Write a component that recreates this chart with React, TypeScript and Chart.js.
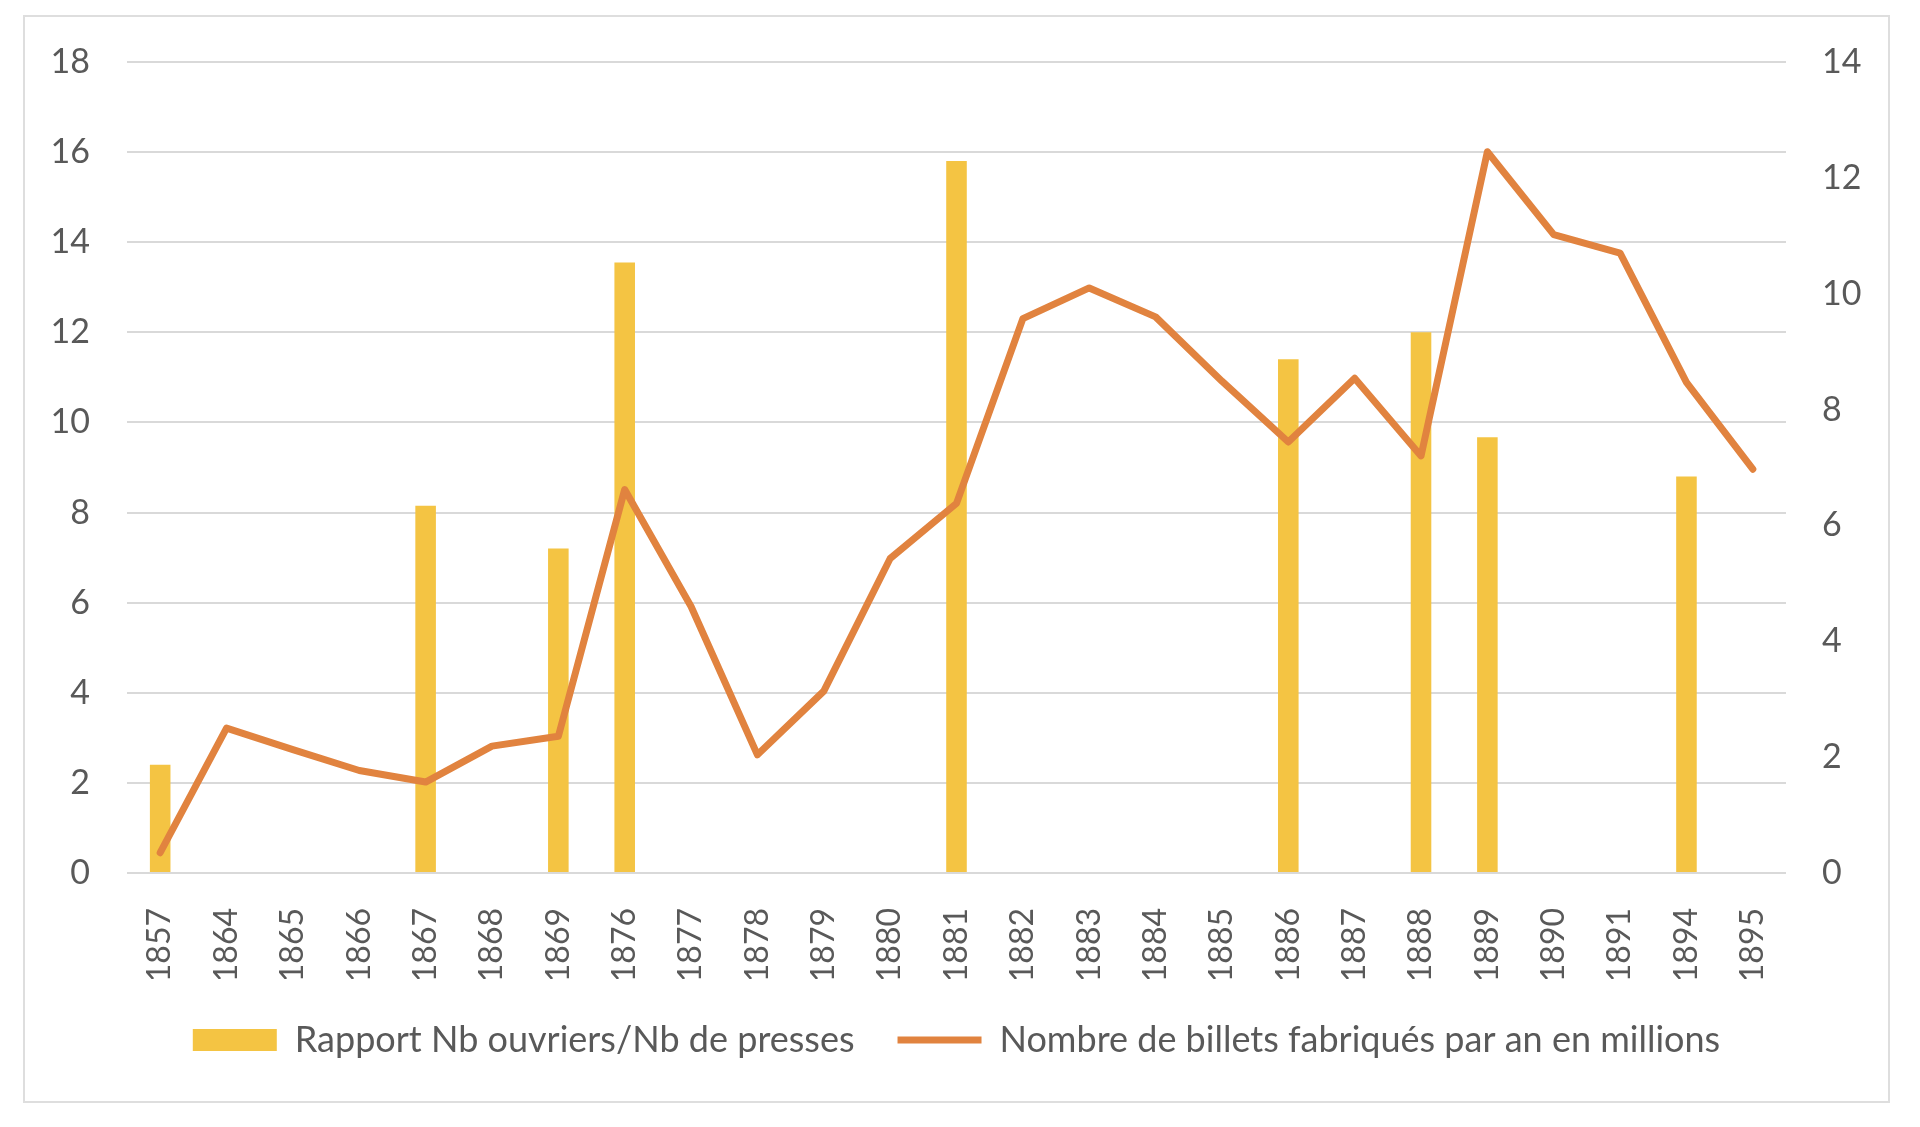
import { useEffect, useRef } from "react"
import { Chart, registerables } from "chart.js"

Chart.register(...registerables)

const years = [
  "1857", "1864", "1865", "1866", "1867", "1868", "1869", "1876", "1877", "1878",
  "1879", "1880", "1881", "1882", "1883", "1884", "1885", "1886", "1887", "1888",
  "1889", "1890", "1891", "1894", "1895",
]

// Rapport Nb ouvriers / Nb de presses (left axis)
const ratioValues = [
  2.4, null, null, null, 8.15, null, 7.2, 13.55, null, null,
  null, null, 15.8, null, null, null, null, 11.4, null, 12.0,
  9.67, null, null, 8.8, null,
]

// Nombre de billets fabriqués par an en millions (right axis)
const billetsValues = [
  0.35, 2.5, 2.13, 1.77, 1.57, 2.19, 2.36, 6.62, 4.6, 2.04,
  3.14, 5.43, 6.38, 9.57, 10.1, 9.6, 8.49, 7.44, 8.54, 7.2,
  12.45, 11.02, 10.7, 8.47, 6.97,
]

const leftTicks = [0, 2, 4, 6, 8, 10, 12, 14, 16, 18]
const rightTicks = [0, 2, 4, 6, 8, 10, 12, 14]

const ratioLabel = "Rapport Nb ouvriers/Nb de presses"
const billetsLabel = "Nombre de billets fabriqués par an en millions"

const BAR_COLOR = "#F4C443"
const LINE_COLOR = "#E1833F"
const TEXT_COLOR = "#595959"
const GRID_COLOR = "#D9D9D9"
const FONT = "Lato, 'Open Sans', sans-serif"

const ChartBox = () => {
  const canvasRef = useRef<HTMLCanvasElement | null>(null)

  useEffect(() => {
    if (!canvasRef.current) return

    const chart = new Chart(canvasRef.current, {
      type: "bar",
      data: {
        labels: years,
        datasets: [
          {
            type: "bar",
            label: ratioLabel,
            data: ratioValues,
            backgroundColor: BAR_COLOR,
            borderWidth: 0,
            yAxisID: "y",
            order: 1,
            barPercentage: 1,
            categoryPercentage: 0.31,
          },
          {
            type: "line",
            label: billetsLabel,
            data: billetsValues,
            borderColor: LINE_COLOR,
            backgroundColor: LINE_COLOR,
            borderWidth: 7,
            borderJoinStyle: "round",
            borderCapStyle: "round",
            pointRadius: 0,
            tension: 0,
            yAxisID: "y1",
            order: 0,
          },
        ],
      },
      options: {
        animation: false,
        responsive: true,
        maintainAspectRatio: false,
        layout: { padding: { top: 45, left: 0, right: 0, bottom: 33 } },
        plugins: {
          tooltip: { enabled: false },
          legend: {
            position: "bottom",
            labels: {
              usePointStyle: true,
              pointStyleWidth: 84,
              boxHeight: 22,
              padding: 43,
              color: TEXT_COLOR,
              font: { family: FONT, size: 36 },
              generateLabels: () => [
                {
                  text: ratioLabel,
                  fillStyle: BAR_COLOR,
                  strokeStyle: BAR_COLOR,
                  lineWidth: 0,
                  pointStyle: "rect",
                  hidden: false,
                  datasetIndex: 0,
                  fontColor: TEXT_COLOR,
                },
                {
                  text: billetsLabel,
                  fillStyle: LINE_COLOR,
                  strokeStyle: LINE_COLOR,
                  lineWidth: 7,
                  lineCap: "butt",
                  pointStyle: "line",
                  hidden: false,
                  datasetIndex: 1,
                  fontColor: TEXT_COLOR,
                },
              ],
            },
          },
        },
        scales: {
          x: {
            grid: { display: false },
            border: { display: false },
            ticks: {
              autoSkip: false,
              minRotation: 90,
              maxRotation: 90,
              padding: 27,
              color: TEXT_COLOR,
              font: { family: FONT, size: 32 },
            },
            afterFit: (scale: any) => {
              scale.height = 106
            },
          },
          y: {
            position: "left",
            min: 0,
            max: 18,
            afterBuildTicks: (scale: any) => {
              scale.ticks = leftTicks.map((v) => ({ value: v }))
            },
            grid: {
              color: GRID_COLOR,
              lineWidth: 2,
              drawTicks: true,
              tickLength: 37,
              tickColor: "rgba(0,0,0,0)",
            },
            border: { display: false },
            ticks: {
              padding: 0,
              color: TEXT_COLOR,
              font: { family: FONT, size: 34 },
            },
            afterFit: (scale: any) => {
              scale.width = 102
            },
          },
          y1: {
            position: "right",
            min: 0,
            max: 14,
            afterBuildTicks: (scale: any) => {
              scale.ticks = rightTicks.map((v) => ({ value: v }))
            },
            grid: {
              drawOnChartArea: false,
              drawTicks: true,
              tickLength: 36,
              tickColor: "rgba(0,0,0,0)",
            },
            border: { display: false },
            ticks: {
              padding: 0,
              color: TEXT_COLOR,
              font: { family: FONT, size: 34 },
            },
            afterFit: (scale: any) => {
              scale.width = 102
            },
          },
        },
      },
    })

    return () => {
      chart.destroy()
    }
  }, [])

  return (
    <div style={{ padding: "7px 0 0 15px" }}>
      <div
        style={{
          width: 1867,
          height: 1088,
          border: "2px solid #DEDEDE",
          boxSizing: "border-box",
          background: "#fff",
        }}
      >
        <div style={{ position: "relative", width: 1863, height: 1084 }}>
          <canvas ref={canvasRef} />
        </div>
      </div>
    </div>
  )
}

export default function App() {
  return <ChartBox />
}
